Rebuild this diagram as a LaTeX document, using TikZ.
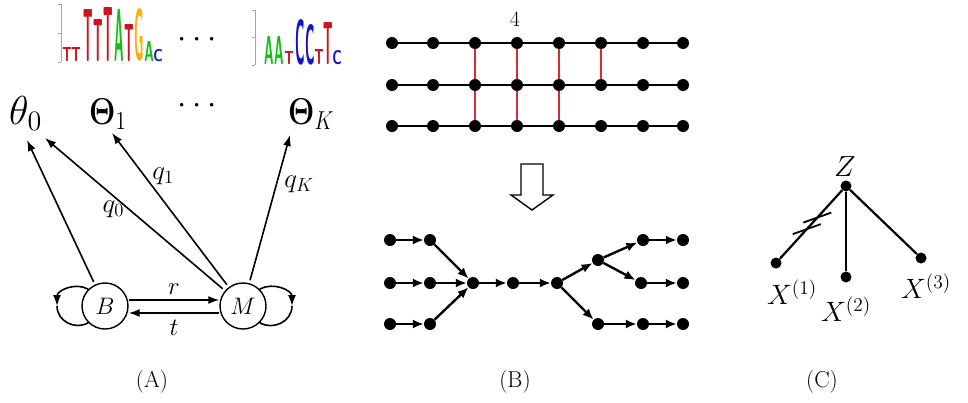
\documentclass[tikz,border=0pt]{standalone}
\usepackage{amsmath,bm}
\usetikzlibrary{arrows.meta,calc}
\definecolor{gred}{RGB}{220,40,55}
\definecolor{lred}{RGB}{205,20,30}
\definecolor{lgreen}{RGB}{20,190,20}
\definecolor{lblue}{RGB}{20,20,200}
\definecolor{lorange}{RGB}{255,175,0}
% name, cx, bottom, height, colour, letter
\newcommand\lgl[6]{\node[inner sep=0pt,anchor=south,text=#5] (#1) at (#2,#3) {\resizebox{9.5pt}{#4pt}{\sffamily\bfseries #6}};}
% scaled text: factor, content (base size 20pt)
\newcommand\sz[2]{\scalebox{#1}{\fontsize{20}{24}\selectfont #2}}
\begin{document}
\begin{tikzpicture}[x=1pt,y=-1pt,
  dot/.style={circle,fill=black,inner sep=0pt,minimum size=12pt},
  cdot/.style={circle,fill=black,inner sep=0pt,minimum size=11pt},
  state/.style={circle,draw,line width=1.4pt,minimum size=46pt,inner sep=0pt},
  arr/.style={-{Latex[length=11pt,width=8pt]},line width=1.6pt},
  plain/.style={line width=1.6pt},
  garr/.style={-{Latex[length=11pt,width=9pt]},line width=2.4pt},
  gline/.style={line width=2.8pt},
  rline/.style={line width=2.4pt,draw=gred},
  cline/.style={line width=2.2pt},
  txt/.style={inner sep=0pt},
]
\useasboundingbox (0,0) rectangle (968,402);

% ---------- sequence logos ----------
\draw[gray!70,line width=0.6pt] (61,4) -- (61,62) (58,4) -- (61,4) (58,33) -- (61,33) (58,62) -- (61,62);
\lgl{la1}{67}{62}{14}{lred}{T}
\lgl{la2}{76}{62}{14}{lred}{T}
\lgl{la3}{88}{62}{52}{lred}{T}
\lgl{la4}{98}{62}{42}{lred}{T}
\lgl{la5}{108}{62}{54}{lred}{T}
\lgl{la6}{119}{62}{52}{lgreen}{A}
\lgl{la7}{129}{62}{37}{lred}{T}
\lgl{la8}{139}{62}{52}{lorange}{G}
\lgl{la9}{149}{62}{20}{lgreen}{A}
\lgl{la10}{158}{62}{12}{lblue}{C}

\draw[gray!70,line width=0.6pt] (255,10) -- (255,65) (252,10) -- (255,10) (252,37) -- (255,37) (252,65) -- (255,65);
\lgl{lb1}{269}{65}{28}{lgreen}{A}
\lgl{lb2}{279}{65}{28}{lgreen}{A}
\lgl{lb3}{289}{65}{13}{lred}{T}
\lgl{lb4}{300}{65}{45}{lblue}{C}
\lgl{lb5}{310}{65}{40}{lblue}{C}
\lgl{lb6}{319}{65}{15}{lred}{T}
\lgl{lb7}{328}{65}{42}{lred}{T}
\lgl{lb8}{337}{65}{14}{lblue}{C}

\node[txt] (dotsA) at (200,40) {\sz{1.6}{$\cdots$}};

% ---------- parameters ----------
\node[txt,anchor=base west] (th0) at (9,124) {\sz{1.95}{$\theta_0$}};
\node[txt,anchor=base west] (Th1) at (89,124) {\scalebox{1.45}[1.8]{\fontsize{20}{24}\selectfont$\bm{\Theta}_1$}};
\node[txt,anchor=base west] (ThK) at (288,124) {\scalebox{1.45}[1.8]{\fontsize{20}{24}\selectfont$\bm{\Theta}_K$}};
\node[txt] (dotsB) at (200,106) {\sz{1.6}{$\cdots$}};

% ---------- HMM ----------
\node[state] (B) at (105,306) {\sz{1.15}{$B$}};
\node[state] (M) at (243,306) {\sz{1.15}{$M$}};
\coordinate (e0a) at (27,140);
\coordinate (e0b) at (45,138);
\coordinate (e1) at (112,133);
\coordinate (eK) at (290,135);
\draw[arr,shorten <=3pt] (B) -- (e0a);
\draw[arr,shorten <=3pt] (M) -- (e0b) node[pos=0.62,below=4pt,txt] (q0) {\sz{1.3}{$q_0$}};
\draw[arr,shorten <=3pt] (M) -- (e1) node[pos=0.72,right=7pt,txt] (q1) {\sz{1.3}{$q_1$}};
\draw[arr,shorten <=3pt] (M) -- (eK) node[pos=0.67,right=7pt,txt] (qK) {\sz{1.3}{$q_K$}};

\draw[arr] ([yshift=6pt]B.east) -- ([yshift=6pt]M.west) node[midway,above=5pt,txt] (rl) {\sz{1.2}{$r$}};
\draw[arr] ([yshift=-7pt]M.west) -- ([yshift=-7pt]B.east) node[midway,below=6pt,txt] (tl) {\sz{1.2}{$t$}};

\coordinate (bl) at (57,306);
\draw[arr] (B.135) to[out=150,in=90,looseness=1.1] (bl);
\draw[plain] (bl) to[out=-90,in=210,looseness=1.1] (B.225);
\coordinate (mr) at (292,306);
\draw[arr] (M.45) to[out=30,in=90,looseness=1.1] (mr);
\draw[plain] (mr) to[out=-90,in=-30,looseness=1.1] (M.-45);

% ---------- panel B top grid ----------
\foreach \r/\y in {1/43,2/85,3/126}{
  \foreach \c/\x in {1/392,2/433,3/475,4/517,5/559,6/601,7/643,8/683}{
    \node[dot] (g\r\c) at (\x,\y) {};
  }
}
\foreach \r in {1,2,3}{
  \foreach \c [evaluate=\c as \n using {int(\c+1)}] in {1,...,7}{
    \draw[gline] (g\r\c) -- (g\r\n);
  }
}
\foreach \c in {3,4,5,6}{ \draw[rline] (g1\c) -- (g2\c); }
\foreach \c in {3,4,5}{ \draw[rline] (g2\c) -- (g3\c); }
\node[txt] (four) at (515,19) {\sz{1.1}{4}};

% hollow arrow
\draw[line width=1.4pt,fill=white] (521,164) -- (543,164) -- (543,195) -- (553,195) -- (532,210) -- (511,195) -- (521,195) -- cycle;

% ---------- panel B bottom graph ----------
\foreach \n/\x/\y in {a1/390/240,a2/430/240,b1/390/283,b2/430/283,c1/390/324,c2/430/324,
  m1/473/283,m2/513/283,m3/557/283,u0/598/260,u1/643/240,u2/683/240,v1/641/283,v2/683/283,
  w1/598/324,w2/643/324,w3/683/324}{
  \node[dot] (\n) at (\x,\y) {};
}
\foreach \s/\t in {a1/a2,b1/b2,c1/c2,a2/m1,b2/m1,c2/m1,m1/m2,m2/m3,m3/u0,u0/u1,u1/u2,u0/v1,v1/v2,m3/w1,w1/w2,w2/w3}{
  \draw[garr] (\s) -- (\t);
}

% ---------- panel C ----------
\node[cdot] (Z) at (846,186) {};
\node[txt] (zl) at (845,167) {\sz{1.4}{$Z$}};
\node[cdot] (X1) at (776,263) {};
\node[cdot] (X2) at (846,277) {};
\node[cdot] (X3) at (921,258) {};
\draw[cline] (Z) -- (X1);
\draw[cline] (Z) -- (X2);
\draw[cline] (Z) -- (X3);
\draw[line width=1.8pt] ($(Z)!0.41!(X1)+(-14,5)$) -- ($(Z)!0.41!(X1)+(14,-5)$);
\draw[line width=1.8pt] ($(Z)!0.56!(X1)+(-14,5)$) -- ($(Z)!0.56!(X1)+(14,-5)$);
\node[txt] (x1l) at (792,292) {\sz{1.35}{$X^{(1)}$}};
\node[txt] (x2l) at (846,309) {\sz{1.35}{$X^{(2)}$}};
\node[txt] (x3l) at (926,286) {\sz{1.35}{$X^{(3)}$}};

% ---------- panel labels ----------
\node[txt] (pA) at (152,382) {\sz{1.15}{(A)}};
\node[txt] (pB) at (515,382) {\sz{1.15}{(B)}};
\node[txt] (pC) at (822,382) {\sz{1.15}{(C)}};
\end{tikzpicture}
\end{document}
